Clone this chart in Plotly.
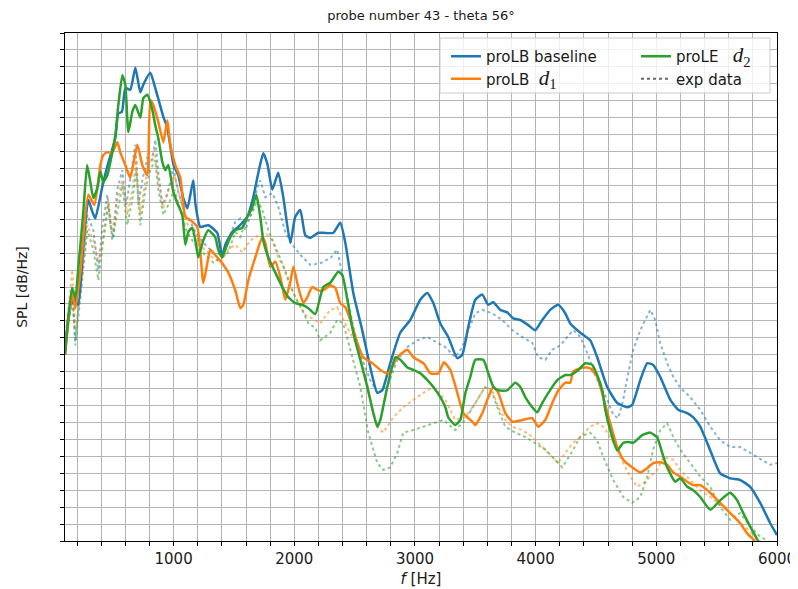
import plotly.graph_objects as go

# ---------------- data ----------------
freq_baseline = [100,145,182,210,252,293,326,351,407,448,517,542,572,600,641,683,724,749,807,848,915,948,1000,1039,1080,1114,1163,1180,1221,1287,1362,1403,1428,1486,1536,1611,1660,1702,1743,1776,1818,1867,1909,1967,2008,2050,2091,2133,2199,2240,2323,2381,2423,2489,2563,2630,2688,2729,2795,2878,2961,3044,3102,3152,3210,3276,3350,3392,3442,3500,3558,3607,3649,3707,3765,3814,3872,3939,3997,4055,4121,4187,4245,4287,4370,4452,4510,4593,4676,4759,4800,4867,4925,4974,5032,5115,5181,5256,5306,5364,5447,5529,5612,5695,5778,5861,5944,6000]
spl_baseline = [42.3,47.9,48.5,47.9,55.0,60.3,58.9,58.1,61.7,64.1,67.6,70.5,70.7,73.5,73.3,75.9,73.0,73.9,75.3,73.5,70.1,68.8,64.4,63.2,60.5,59.3,62.6,59.9,57.1,57.3,56.4,53.5,55.0,56.5,57.1,58.3,60.6,63.5,65.8,64.6,61.5,63.5,60.6,55.2,58.3,59.1,56.1,55.8,56.4,56.4,56.4,57.6,55.2,49.3,44.9,40.5,37.5,37.8,41.0,44.6,46.1,48.5,49.3,48.1,45.7,44.1,41.6,42.0,45.3,48.5,49.1,47.9,48.2,47.3,47.0,46.3,46.1,45.5,44.9,46.1,47.3,47.9,46.9,45.7,44.6,43.7,41.7,38.2,36.3,35.8,36.1,39.0,41.0,40.8,39.4,36.7,35.5,35.1,34.6,33.5,30.7,28.0,27.4,27.2,26.4,24.5,22.1,20.7]

freq_d1 = [100,158,186,227,293,343,393,418,451,492,534,558,600,641,699,741,782,807,832,873,915,948,973,1014,1056,1097,1139,1196,1246,1279,1304,1362,1403,1453,1511,1553,1578,1619,1677,1735,1760,1801,1843,1884,1925,1967,1992,2033,2075,2108,2149,2199,2240,2298,2340,2381,2423,2464,2522,2572,2647,2713,2779,2854,2937,2987,3070,3128,3194,3240,3293,3351,3401,3475,3500,3558,3608,3650,3691,3749,3807,3890,3972,4022,4080,4138,4188,4246,4287,4311,4394,4452,4510,4560,4618,4676,4726,4800,4867,4925,4975,5032,5090,5140,5198,5256,5306,5364,5447,5529,5612,5695,5753,5819]
spl_d1 = [42.0,49.1,47.5,51.8,60.9,59.7,64.4,65.6,65.9,65.9,67.1,65.9,64.4,62.9,66.8,64.4,63.2,72.1,71.5,69.5,67.1,69.7,66.8,64.4,62.9,58.3,57.9,57.1,50.5,52.8,54.4,53.5,52.8,51.7,49.6,47.5,47.9,50.8,53.5,55.9,55.2,52.4,53.0,51.2,48.5,50.6,52.4,50.0,48.1,48.8,50.0,49.6,49.6,50.2,49.9,48.1,47.6,46.1,43.4,41.7,41.0,40.2,39.8,41.7,42.6,41.7,41.0,39.8,39.8,41.1,40.2,37.5,35.1,34.1,33.7,35.1,37.0,38.2,37.5,35.1,34.1,34.3,34.5,33.5,34.3,36.3,37.8,38.7,38.7,40.0,40.5,40.4,39.4,37.0,33.9,31.1,29.6,28.7,28.1,28.6,29.2,29.3,29.0,28.1,27.6,27.0,26.6,26.6,25.7,24.5,23.3,22.1,20.9,20.0]

freq_d2 = [100,158,186,210,252,283,310,335,368,393,418,451,492,517,542,575,600,625,658,683,724,749,782,824,848,873,906,931,956,998,1031,1072,1097,1122,1155,1180,1204,1246,1287,1345,1370,1403,1428,1470,1511,1569,1611,1652,1685,1718,1743,1785,1843,1901,1950,2008,2066,2116,2174,2240,2298,2364,2398,2440,2489,2547,2605,2655,2688,2713,2771,2837,2879,2937,2987,3045,3103,3152,3210,3252,3276,3334,3376,3418,3459,3500,3566,3608,3650,3691,3765,3831,3873,3914,3972,4013,4055,4105,4179,4246,4287,4354,4411,4469,4510,4552,4577,4618,4676,4726,4767,4809,4883,4950,5008,5049,5090,5157,5198,5256,5306,5364,5447,5529,5612,5670,5720,5778,5844]
spl_d2 = [42.0,49.9,48.7,52.2,58.9,64.4,62.4,60.5,61.7,63.6,62.4,63.2,65.9,67.9,71.5,75.0,73.9,68.3,70.7,71.5,70.0,72.3,72.7,70.9,69.1,67.6,64.8,63.8,64.4,61.2,59.9,58.5,55.0,56.5,57.0,55.5,53.5,55.5,56.7,55.9,54.4,53.5,54.4,55.9,56.7,57.0,58.3,59.4,60.9,58.3,55.5,53.5,51.7,50.0,48.8,48.1,47.9,47.5,46.8,50.0,50.5,51.8,51.4,48.5,44.6,41.4,38.2,35.1,33.5,34.3,38.2,41.7,41.4,40.5,40.2,39.8,39.0,38.2,37.0,35.8,34.6,33.7,34.3,37.5,39.4,41.4,41.4,39.8,38.2,37.8,37.8,38.7,38.2,37.0,35.8,35.2,36.3,37.5,39.0,39.6,39.6,40.2,41.0,40.8,39.6,37.8,35.5,33.1,30.7,31.6,31.7,31.6,32.5,32.8,32.2,30.4,28.7,27.0,27.4,26.4,26.0,25.2,23.7,24.8,25.7,24.8,23.3,21.7,20.0]

freq_exp_baseline = [100,161,186,227,285,335,376,409,451,476,500,533,575,608,641,683,708,741,782,824,848,873,906,948,998,1039,1097,1138,1196,1263,1346,1404,1453,1511,1553,1594,1652,1693,1718,1760,1818,1867,1925,1983,2050,2133,2215,2298,2356,2381,2439,2489,2547,2630,2688,2770,2853,2936,3019,3102,3185,3251,3334,3392,3442,3500,3558,3640,3723,3806,3889,3972,4022,4080,4138,4204,4262,4312,4370,4428,4477,4535,4593,4643,4684,4726,4767,4809,4867,4925,4950,4991,5032,5090,5140,5198,5281,5364,5447,5529,5612,5695,5778,5861,5944,6000]
spl_exp_baseline = [43.1,48.5,43.7,49.6,58.5,56.7,52.0,57.0,60.9,57.3,55.8,61.5,63.8,59.7,62.6,66.8,59.7,62.6,65.3,65.0,67.4,63.6,59.7,60.9,64.1,61.2,58.5,57.7,56.1,55.0,53.8,54.1,55.5,57.7,58.1,56.7,59.1,61.7,62.6,60.6,61.1,59.5,56.5,55.0,53.8,52.6,52.8,53.4,54.4,52.6,48.8,45.3,42.0,39.0,37.5,38.2,41.4,42.9,43.7,44.1,43.4,42.9,41.7,42.9,44.9,46.9,47.3,46.9,46.1,44.9,44.1,43.4,41.7,41.4,42.6,43.1,44.1,44.9,44.1,42.2,40.2,38.2,36.7,34.9,34.5,36.7,39.8,42.6,44.9,46.7,47.3,46.1,43.4,41.0,39.4,38.1,37.0,35.5,33.5,31.9,31.1,31.1,30.4,29.6,29.0,29.2]

freq_exp_d1 = [100,161,186,227,285,335,376,418,459,492,533,575,616,658,691,724,766,807,840,873,915,956,1006,1056,1105,1155,1205,1263,1329,1387,1453,1511,1569,1636,1702,1760,1818,1867,1925,1983,2033,2091,2149,2215,2298,2356,2406,2464,2547,2630,2688,2737,2820,2903,2986,3069,3152,3251,3334,3417,3500,3582,3640,3690,3748,3806,3889,3972,4055,4138,4187,4245,4312,4370,4452,4510,4560,4618,4676,4726,4784,4842,4892,4950,5007,5057,5140,5198,5256,5306,5364,5447,5529,5612,5695,5778,5861]
spl_exp_d1 = [43.7,52.0,44.9,49.1,57.3,55.5,52.9,56.1,60.3,56.5,60.3,62.6,58.5,61.5,65.0,58.5,62.6,64.8,66.2,62.6,59.3,61.5,63.2,60.3,57.7,56.5,55.0,54.4,53.4,52.9,54.4,55.0,54.1,55.5,56.1,56.4,55.5,53.5,52.0,49.6,48.1,46.7,46.3,45.7,47.3,47.6,46.1,44.6,42.2,36.7,33.5,32.8,34.6,35.8,36.7,37.5,38.2,36.7,34.3,34.6,36.3,38.2,37.8,35.8,34.3,33.5,33.1,32.3,31.1,29.9,29.2,30.4,31.6,32.3,33.5,33.9,33.5,32.3,30.8,29.2,27.6,26.4,26.8,27.6,28.4,29.9,29.6,28.4,27.6,26.8,26.0,25.2,24.3,23.3,22.2,21.1,20.0]

freq_exp_d2 = [100,161,186,227,285,335,376,418,459,492,533,575,616,658,691,724,766,807,848,873,915,956,1006,1056,1105,1155,1205,1263,1329,1387,1453,1511,1553,1594,1652,1693,1735,1785,1843,1901,1950,2008,2066,2116,2174,2215,2298,2356,2406,2464,2547,2613,2688,2737,2795,2853,2903,2986,3069,3152,3235,3334,3417,3500,3582,3640,3690,3748,3831,3914,3997,4080,4162,4220,4287,4370,4452,4510,4560,4643,4726,4800,4867,4925,4974,5032,5090,5140,5198,5281,5364,5447,5529,5612,5695,5778,5861,5927]
spl_exp_d2 = [42.6,49.6,43.1,48.5,56.7,54.4,50.8,55.5,59.7,55.5,58.5,62.0,57.3,60.3,63.8,57.3,61.5,63.8,65.0,61.5,58.5,59.7,61.5,59.1,56.7,55.5,54.4,53.8,52.9,53.4,54.1,56.5,55.9,57.6,58.7,60.3,59.1,56.7,54.7,52.8,50.8,48.8,47.3,45.7,45.2,43.7,44.6,46.1,45.7,42.6,38.2,32.8,29.2,28.4,28.7,30.4,32.8,33.1,33.5,33.9,34.3,33.1,34.3,36.3,38.2,37.5,35.5,33.5,32.8,32.3,31.6,30.8,29.6,28.7,30.2,32.3,32.8,31.9,29.9,27.2,25.2,24.5,25.2,27.6,30.8,33.1,33.9,32.3,30.8,29.2,27.6,26.4,24.0,22.5,23.3,21.7,20.5,20.0]

x_tick_values = [1000, 2000, 3000, 4000, 5000, 6000]
x_tick_labels = ["1000", "2000", "3000", "4000", "5000", "6000"]

title_text = "probe number 43 - theta 56°"
math_style = "font-family:Liberation Serif;font-size:21px"
name_baseline = "proLB baseline"
name_d1 = f"proLB&nbsp;&nbsp;<span style='{math_style}'><i>d</i><sub>1</sub></span>"
name_d2 = f"proLE&nbsp;&nbsp;&nbsp;<span style='{math_style}'><i>d</i><sub>2</sub></span>"
name_exp = "exp data"

BLUE, ORANGE, GREEN = "#1f77b4", "#ff7f0e", "#2ca02c"
FONT = "DejaVu Sans"
GRID = "#b4b4b4"

fig = go.Figure()

# experimental data (dotted, translucent)
for fx, fy, col in [(freq_exp_baseline, spl_exp_baseline, "rgba(31,119,180,0.55)"),
                    (freq_exp_d1, spl_exp_d1, "rgba(255,127,14,0.55)"),
                    (freq_exp_d2, spl_exp_d2, "rgba(44,160,44,0.55)")]:
    fig.add_trace(go.Scatter(x=fx, y=fy, mode="lines", showlegend=False, hoverinfo="skip",
                             line=dict(color=col, width=2, dash="dot")))

# simulations
fig.add_trace(go.Scatter(x=freq_baseline, y=spl_baseline, mode="lines", name=name_baseline,
                         line=dict(color=BLUE, width=2.5, shape="spline", smoothing=0.5),
                         legend="legend"))
fig.add_trace(go.Scatter(x=freq_d1, y=spl_d1, mode="lines", name=name_d1,
                         line=dict(color=ORANGE, width=2.5, shape="spline", smoothing=0.5),
                         legend="legend"))
fig.add_trace(go.Scatter(x=freq_d2, y=spl_d2, mode="lines", name=name_d2,
                         line=dict(color=GREEN, width=2.5, shape="spline", smoothing=0.5),
                         legend="legend2"))
fig.add_trace(go.Scatter(x=[None], y=[None], mode="lines", name=name_exp,
                         line=dict(color="#666666", width=2, dash="dot"),
                         legend="legend2"))

# The page body has an 8 px margin, so the figure is drawn 8 px in from the
# top-left corner of the window; sizes below compensate for it.
OFF = 8
W, H = 798 - OFF, 589 - OFF
L, T = 65 - OFF, 33 - OFF
pw, ph = 712, 508
R, B = W - L - pw, H - T - ph

def px(x):  # window pixel -> paper fraction
    return (x - 65) / pw

def py(y):
    return (541 - y) / ph

legend_common = dict(bgcolor="rgba(0,0,0,0)", borderwidth=0, font=dict(family=FONT, size=15, color="#1a1a1a"),
                     xanchor="left", yanchor="top", tracegroupgap=2, itemwidth=30)

fig.update_layout(
    width=W, height=H,
    margin=dict(l=L, r=R, t=T, b=B, autoexpand=False),
    paper_bgcolor="white", plot_bgcolor="white",
    font=dict(family=FONT, color="#1a1a1a"),
    title=dict(text=title_text, x=0.5, xref="paper", xanchor="center",
               y=1 - (15 - OFF) / H, yref="container", yanchor="middle", automargin=False,
               font=dict(family=FONT, size=13, color="#1a1a1a")),
    legend=dict(x=px(446), y=py(40), **legend_common),
    legend2=dict(x=px(636), y=py(40), **legend_common),
    shapes=[dict(type="rect", xref="paper", yref="paper",
                 x0=px(440), x1=px(770), y0=py(93), y1=py(38),
                 line=dict(color="#cccccc", width=1), fillcolor="rgba(255,255,255,0.8)",
                 layer="above")],
)

fig.update_xaxes(
    range=[100, 6000], tickmode="array", tickvals=x_tick_values, ticktext=x_tick_labels,
    ticks="outside", ticklen=4, tickwidth=1.2, tickcolor="black",
    tickfont=dict(family=FONT, size=15, color="#1a1a1a"),
    showgrid=True, gridcolor=GRID, gridwidth=1, automargin=False,
    minor=dict(tick0=0, dtick=200, ticks="outside", ticklen=3.5, tickwidth=1, tickcolor="black",
               showgrid=True, gridcolor=GRID, gridwidth=1),
    showline=True, linecolor="black", linewidth=1.3, mirror=True, zeroline=False,
    title=dict(text="<i>f</i> [Hz]", font=dict(family=FONT, size=15, color="#1a1a1a"), standoff=6),
)
fig.update_yaxes(
    range=[20, 80], tick0=20, dtick=2, showticklabels=False,
    ticks="outside", ticklen=4, tickwidth=1, tickcolor="black", automargin=False,
    showgrid=True, gridcolor=GRID, gridwidth=1,
    showline=True, linecolor="black", linewidth=1.3, mirror=True, zeroline=False,
    title=dict(text="SPL [dB/Hz]", font=dict(family=FONT, size=14, color="#1a1a1a"), standoff=28),
)

fig.write_html("out.html")
